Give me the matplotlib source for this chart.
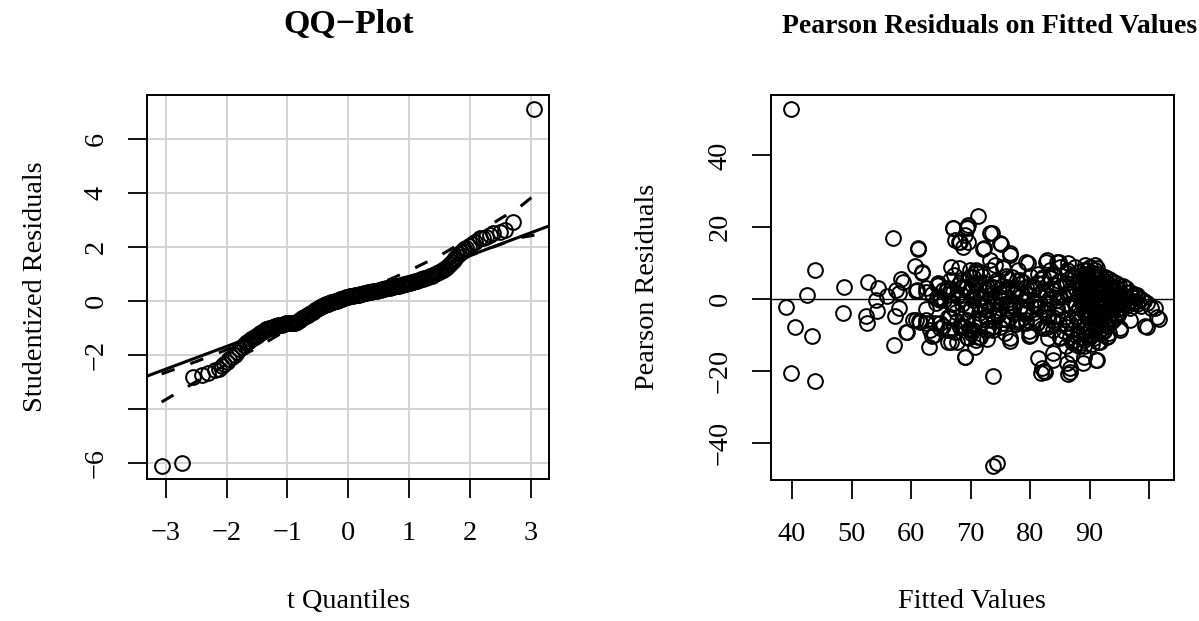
import matplotlib
matplotlib.use("Agg")
import matplotlib.pyplot as plt

plt.rcParams['font.family'] = ['Liberation Serif', 'DejaVu Serif']

# ---------------- QQ plot data ----------------
qq_quantiles = [
    -3.07, -2.73, -2.55, -2.41, -2.30, -2.19, -2.13, -2.08, -2.04, -2.00, -1.96, -1.91, -1.87, -1.83, -1.79, -1.75,
    -1.72, -1.69, -1.66, -1.63, -1.60, -1.57, -1.54, -1.51, -1.48, -1.45, -1.42, -1.39, -1.36,
    -1.33, -1.30, -1.27, -1.24, -1.21, -1.18, -1.15, -1.12, -1.09, -1.06, -1.03,
    -1.00, -0.97, -0.94, -0.91, -0.88, -0.85,
    -0.82, -0.79, -0.76, -0.73, -0.70, -0.67, -0.64, -0.61, -0.58, -0.55, -0.52, -0.49, -0.46, -0.43,
    -0.40, -0.37, -0.34, -0.31, -0.28, -0.25, -0.22, -0.19, -0.16, -0.13, -0.10, -0.07, -0.04,
    -0.01, 0.02, 0.05, 0.08, 0.11, 0.14, 0.17, 0.20, 0.23, 0.26, 0.29, 0.32, 0.35, 0.38, 0.41, 0.44, 0.47, 0.50,
    0.53, 0.56, 0.59, 0.62, 0.65, 0.68, 0.71, 0.74, 0.77, 0.80, 0.83, 0.86, 0.89, 0.92, 0.95,
    0.98, 1.01, 1.04, 1.07, 1.10, 1.13, 1.16, 1.19, 1.22, 1.25, 1.28, 1.31, 1.34,
    1.37, 1.40, 1.43, 1.46, 1.49, 1.52, 1.55, 1.58, 1.61,
    1.64, 1.67, 1.70, 1.73, 1.76,
    1.79, 1.82, 1.85, 1.88, 1.91, 1.94,
    1.98, 2.03, 2.08, 2.16, 2.21, 2.27, 2.33, 2.38, 2.49, 2.57, 2.70, 3.06,
]
qq_residuals = [
    -6.11, -6.01, -2.83, -2.74, -2.65, -2.57, -2.50, -2.42, -2.33, -2.25, -2.16, -2.07, -1.98, -1.88, -1.79, -1.69,
    -1.61, -1.56, -1.52, -1.47, -1.42, -1.38, -1.33, -1.28, -1.24, -1.19, -1.14, -1.10, -1.05,
    -1.02, -1.00, -0.98, -0.96, -0.94, -0.92, -0.90, -0.89, -0.87, -0.85, -0.83,
    -0.82, -0.82, -0.81, -0.80, -0.80, -0.79,
    -0.74, -0.69, -0.64, -0.60, -0.55, -0.51, -0.47, -0.43, -0.39, -0.35, -0.31, -0.27, -0.23, -0.19,
    -0.15, -0.12, -0.10, -0.07, -0.05, -0.03, 0.00, 0.02, 0.05, 0.07, 0.09, 0.12, 0.14,
    0.15, 0.17, 0.18, 0.20, 0.21, 0.23, 0.24, 0.26, 0.27, 0.29, 0.30, 0.32, 0.33, 0.35, 0.36, 0.38, 0.39, 0.41,
    0.42, 0.44, 0.45, 0.47, 0.48, 0.50, 0.51, 0.53, 0.54, 0.56, 0.57, 0.59, 0.60, 0.62, 0.63,
    0.65, 0.67, 0.69, 0.71, 0.73, 0.76, 0.78, 0.80, 0.82, 0.84, 0.87, 0.89, 0.91,
    0.94, 0.97, 1.01, 1.04, 1.08, 1.11, 1.14, 1.18, 1.21,
    1.29, 1.37, 1.45, 1.53, 1.61,
    1.68, 1.74, 1.80, 1.86, 1.92, 1.97,
    2.05, 2.12, 2.20, 2.32, 2.35, 2.38, 2.45, 2.51, 2.57, 2.63, 2.94, 7.11,
]
ref_line_x = [-3.31, 3.30]
ref_line_y = [-2.78, 2.78]
env_x = [-3.07, -2.5, -2.0, -1.5, -1.0, -0.5, 0.0, 0.5, 1.0, 1.5, 2.0, 2.5, 2.8, 3.06]
env_upper = [-2.70, -2.24, -1.80, -1.33, -0.85, -0.35, 0.15, 0.62, 1.12, 1.68, 2.33, 3.05, 3.45, 3.92]
env_lower = [-3.74, -2.98, -2.35, -1.72, -1.06, -0.55, -0.10, 0.30, 0.64, 1.05, 1.68, 2.10, 2.34, 2.44]

qq_xticks = [-3, -2, -1, 0, 1, 2, 3]
qq_xticklabels = ['\u22123', '\u22122', '\u22121', '0', '1', '2', '3']
qq_yticks = [-6, -4, -2, 0, 2, 4, 6]
qq_yticklabels = ['\u22126', '', '\u22122', '0', '2', '4', '6']

# ---------------- Residuals vs fitted data ----------------
fitted = [
    39.8, 39.0, 40.5, 39.8, 42.5, 43.9, 43.4, 43.9,
    48.7, 48.6, 52.8, 52.5, 52.6, 54.5, 54.1, 54.3, 55.9, 56.9, 57.5, 57.9, 58.3, 57.9, 57.3, 57.1, 59.2,
    60.6, 61.1, 61.8, 60.8, 62.5, 62.5, 60.8, 61.4, 63.5, 63.1, 64.0, 64.5, 65.0, 65.6, 66.3, 66.3,
    67.0, 66.7, 67.3, 68.4, 69.0, 69.0, 69.0, 67.8, 66.7,
    67.1, 69.4, 69.1, 68.0, 69.6, 73.3, 75.0, 76.6, 72.2, 73.3, 79.4, 79.7, 82.8, 84.8, 86.4, 89.2, 91.2,
    71.3, 69.6, 69.4, 68.2, 68.8, 67.4, 73.6, 72.1, 75.1, 76.7, 75.5,
    61.2, 61.8, 58.7, 61.0, 62.6, 64.6, 65.4, 64.3, 66.6, 67.1, 68.8, 69.9, 71.0, 71.6, 70.5, 72.2, 73.3,
    74.4, 75.0, 76.1, 76.6, 77.8, 78.3, 79.4, 80.6, 81.1, 82.2, 83.4, 83.9, 85.0, 86.2, 87.3, 88.4, 89.5,
    60.4, 61.5, 62.6, 59.3, 63.2, 63.8, 66.6, 66.3, 67.4, 68.2, 69.4, 71.0, 69.1, 69.9, 71.6, 72.7, 73.8,
    74.4, 76.6, 76.1, 77.2, 78.3, 80.0, 79.4, 80.9, 81.7, 81.4, 82.0, 82.5, 83.9, 86.2, 86.7, 87.3, 89.0,
    86.2, 86.7, 89.0, 91.2, 84.5, 82.8, 83.9, 99.6, 101.3, 100.4, 73.8, 73.7, 74.4,
    81.9, 82.3, 83.9, 86.4, 86.7, 87.0, 88.9, 91.1, 88.3, 79.9, 76.7, 72.7, 70.8, 82.7, 84.6,
    99.3, 101.6, 101.0, 99.6, 97.9,
    69.9, 71.0, 73.3, 75.5, 69.9, 71.6, 73.8, 75.0, 77.2, 78.3, 79.4, 80.6, 82.2, 83.4, 83.9, 85.0, 86.2,
    69.9, 71.6, 72.7, 73.8, 75.0, 76.6, 77.8, 78.9, 79.4, 81.1, 82.8, 83.9, 86.2, 81.1, 76.1, 72.7, 70.5,
    68.8, 71.3, 80.0, 82.8, 85.0, 87.0, 87.6, 89.0, 89.5, 91.8, 93.2, 95.1,
    64.3, 66.0, 67.9, 67.7, 70.5, 71.0, 71.6, 69.4, 72.7, 74.4, 76.1, 77.8, 78.9, 80.6, 82.2, 83.4,
    85.0, 86.2, 87.3, 89.5, 62.6, 64.9, 66.6, 68.2, 69.4, 70.5, 71.6, 72.7, 73.8, 75.5, 77.8, 79.4,
    81.1, 82.5, 83.9, 85.0, 86.7, 87.8, 88.4, 90.1, 91.8, 92.9, 95.1, 96.8,
    64.9, 67.1, 70.5, 71.6, 73.8, 75.5, 78.3, 80.6, 82.8, 84.5, 86.7, 87.8,
    72.5, 73.5, 74.5, 75.5, 76.5, 77.5, 78.5, 79.5, 80.5, 81.5, 82.5, 83.5, 84.5, 85.5, 86.5, 70.0,
    71.0, 68.5, 67.5, 66.0, 71.5, 74.0, 76.0, 78.0, 80.0, 82.0, 84.0, 86.0, 85.5, 88.0, 87.0, 89.0, 90.5,
    87.5, 87.5, 87.5, 87.5, 88.3, 88.3, 88.3, 88.3, 88.3, 89.0, 89.0, 89.0, 89.0, 89.0, 89.0,
    89.7, 89.7, 89.7, 89.7, 89.7, 89.7, 90.3, 90.3, 90.3, 90.3, 90.3, 90.3, 90.3,
    90.9, 90.9, 90.9, 90.9, 90.9, 90.9, 90.9, 91.5, 91.5, 91.5, 91.5, 91.5, 91.5, 91.5, 91.5,
    92.0, 92.0, 92.0, 92.0, 92.0, 92.0, 92.6, 92.6, 92.6, 92.6, 92.6, 92.6,
    93.2, 93.2, 93.2, 93.2, 93.2, 93.8, 93.8, 93.8, 93.8, 93.8, 94.4, 94.4, 94.4, 94.4,
    95.0, 95.0, 95.0, 95.0, 95.6, 95.6, 95.6, 96.2, 96.2, 96.2, 96.8, 96.8, 96.8,
    97.4, 97.4, 98.0, 98.0, 98.6, 98.6, 99.2,
    63.5, 64.2, 65.3, 66.1, 67.0, 67.8, 68.6, 69.3, 70.1, 70.8, 71.4, 72.3, 73.0, 73.9, 74.7, 75.3,
    76.2, 77.0, 77.6, 78.7, 79.2, 80.3, 81.0, 81.8, 82.6, 83.2, 84.1, 84.9, 85.7, 86.4, 87.1,
    64.8, 66.9, 68.0, 69.6, 70.3, 72.0, 73.1, 74.2, 75.8, 77.3, 78.0, 79.8, 81.3, 83.0, 84.3, 85.3,
    86.0, 87.6,
    88.0, 88.6, 89.3, 90.0, 90.6, 91.2, 91.8, 92.3, 92.9, 93.5, 94.1, 94.7, 95.3, 95.9, 96.5, 97.1,
    97.7, 88.7, 89.4, 90.1, 90.7, 91.3, 91.9, 92.4, 93.0, 93.6, 94.2, 94.8, 90.0, 91.0,
    88.9, 89.5, 90.2, 90.8, 91.4, 92.1, 92.7, 93.3, 93.9, 94.5, 89.2, 89.9, 90.5, 91.1, 91.7, 92.2,
    92.8, 93.4, 94.0, 94.6, 95.2, 88.4, 89.1, 89.8, 90.4, 91.0, 91.6, 92.5, 93.1, 93.7,
]
pearson = [
    52.8, -2.2, -7.7, -20.5, 1.2, 8.0, -10.2, -22.8,
    3.3, -3.8, 4.6, -4.8, -6.7, 3.2, -0.4, -3.3, 0.8, 16.9, 2.5, 1.8, 5.6, -2.4, -4.8, -12.9, -9.3,
    9.2, 13.9, 7.3, 2.1, 3.2, -2.8, -5.9, -6.2, -10.2, -13.4, -6.7, 4.4, 0.4, -0.3, -4.9, -11.9,
    19.7, 9.0, 6.7, 5.3, 3.0, -7.7, -16.1, -11.9, -11.9,
    19.7, 20.1, 17.8, 16.0, 16.0, 18.5, 15.5, 12.7, 14.1, 10.9, 10.4, 9.9, 10.9, 10.4, 9.9, 9.5, 8.5,
    23.1, 20.6, 19.7, 16.0, 14.6, 16.4, 18.5, 13.8, 15.2, 12.2, 9.0,
    14.1, 7.6, 4.8, 2.5, 2.0, 3.9, 2.5, 0.2, 5.3, 2.0, 3.4, 6.2, 8.1, 4.4, 0.6, 0.6, 3.4,
    5.3, 1.6, 3.4, -0.7, 5.3, 0.6, 3.4, -0.3, 4.4, 2.5, 5.8, 0.6, 3.4, 7.1, 1.6, 5.3, -0.3,
    -5.9, -6.3, -6.8, -9.1, -8.6, -10.0, -4.9, -8.6, -9.1, -7.7, -5.9, -11.4, -16.1, -8.6, -6.8, -4.9, -7.7,
    -3.1, -11.0, -5.9, -4.0, -5.9, -10.0, -3.1, -5.9, -2.1, -16.5, -19.3, -20.2, -15.1, -7.7, -10.5, -5.9, -8.6,
    -17.9, -20.2, -16.1, -17.0, -4.5, -4.9, -8.6, -7.7, -4.9, -2.6, -21.4, -46.5, -45.8,
    -20.7, -20.0, -16.9, -21.0, -19.1, -15.4, -17.7, -17.1, -13.2, -10.3, -11.7, -11.2, -13.3, 10.4, 10.4,
    -7.5, -5.6, -2.6, -1.2, 0.6,
    8.1, 7.1, 8.1, 8.5, 2.5, 0.6, 3.4, 0.6, 2.5, 5.3, -0.3, 3.4, 6.2, 8.1, 2.5, 0.6, 4.4,
    -3.1, -5.9, -8.6, -4.5, -7.7, -4.9, -6.3, -4.0, -6.8, -6.8, -3.1, -4.9, -5.9, -2.1, -1.2, -1.2, -8.6,
    -7.7, -10.5, -10.0, -7.7, -11.0, -8.6, -12.4, -11.4, -7.7, -11.9, -9.6, -8.6,
    3.9, 2.5, 3.9, 0.7, 6.2, 7.6, 7.6, 3.4, 3.4, 4.4, 5.8, 2.5, 4.8, 3.4, 4.4, 6.2,
    9.0, 8.1, 6.7, 8.1, -5.8, -6.8, -8.6, -7.9, -10.5, -6.8, -10.5, -5.8, -8.6, -6.8, -5.8, -5.8,
    -6.8, -8.2, -5.8, -10.5, -6.8, -12.3, -10.5, -10.5, -8.6, -10.5, -8.2, -5.8,
    -0.3, -1.2, -0.3, -2.1, -1.2, -0.3, -2.1, -1.2, 1.1, -0.3, 1.6, -1.7,
    -2.0, 1.0, -1.5, 2.0, -3.0, 1.5, -2.0, 1.0, -4.0, 1.5, -1.0, 3.0, -2.5, 1.0, -1.5, -2.5,
    2.0, -1.5, -3.5, 2.5, -4.0, -6.0, 6.5, 8.0, 6.5, -8.0, 7.0, 4.5, -5.5, -9.5, -12.0, -13.0, -12.5,
    6.5, 3.0, -1.5, -4.0, 7.5, 4.5, 1.0, -2.5, -6.0, 8.0, 5.5, 2.5, -0.5, -3.5, -7.0,
    6.5, 3.5, 1.0, -2.0, -5.0, -9.0, 7.5, 5.0, 2.0, -1.0, -3.5, -6.5, -10.0,
    8.0, 6.0, 3.5, 1.0, -1.5, -4.5, -8.0, 7.0, 4.5, 2.5, 0.0, -2.5, -5.5, -9.5, -12.0,
    6.5, 4.0, 1.5, -1.0, -3.5, -7.0, 6.0, 3.5, 1.0, -1.5, -4.0, -6.0,
    5.5, 3.0, 0.5, -2.0, -4.5, 5.0, 2.5, 0.0, -2.5, -4.0, 4.5, 2.0, -0.5, -3.0,
    4.0, 1.5, -1.0, -3.5, 3.5, 1.0, -1.5, 3.0, 0.5, -2.0, 2.0, -0.5, -2.5,
    1.5, -1.0, 1.0, -1.5, 0.0, -2.0, -0.5,
    1.5, -1.0, -7.5, 3.0, -2.5, -6.0, 1.0, -3.5, -9.5, 4.5, -1.5, 2.0, -8.0, 0.5, -4.5, 3.5,
    -2.5, 6.0, -7.0, 1.5, -4.0, 2.5, -1.5, 5.5, -3.5, 0.0, -6.5, 5.0, -9.0, 1.5, 6.0,
    -8.0, -1.5, 8.5, -11.0, 4.0, 6.5, -3.0, 9.5, -9.5, -2.0, 3.0, -9.0, 7.0, -11.0, 4.0, -3.0,
    -13.0, 9.0,
    5.0, -0.5, 7.0, 4.0, -2.5, 5.5, 0.5, 2.5, -3.0, 4.0, -1.5, 3.0, -2.5, 2.0, -1.0, 0.5,
    -0.5, 2.0, -4.5, -8.0, -11.0, -7.0, -9.5, -5.0, -7.5, -6.5, -5.5, -4.5, 9.0, 9.5,
    3.8, 1.8, 4.8, 2.8, 5.8, 2.2, 4.8, 1.8, 3.2, 0.8, -1.8, -0.8, -2.2, -3.2, -0.2, -4.2,
    -1.2, -5.2, -2.2, -1.8, 0.2, 2.8, -3.2, 5.8, 0.8, -7.2, -6.2, -8.8, -10.2, -2.8,
]
rv_xticks = [40, 50, 60, 70, 80, 90, 100]
rv_xticklabels = ['40', '50', '60', '70', '80', '90', '']
rv_yticks = [-40, -20, 0, 20, 40]
rv_yticklabels = ['\u221240', '\u221220', '0', '20', '40']

W, H = 1199, 621
fig = plt.figure(figsize=(W / 100, H / 100), dpi=100)

def px_axes(l, t, r, b):
    return fig.add_axes([l / W, 1 - b / H, (r - l) / W, (b - t) / H])

FS = 20.3
mk = dict(marker='o', markersize=10.6, markerfacecolor='none', markeredgecolor='black',
          markeredgewidth=1.45, linestyle='none')

def style(ax):
    for s in ax.spines.values():
        s.set_linewidth(1.4)
    ax.tick_params(axis='both', direction='out', length=13.5, width=1.3, labelsize=FS)
    ax.tick_params(axis='x', pad=17)
    ax.tick_params(axis='y', pad=14)

# ---- Left: QQ plot ----
ax1 = px_axes(147, 95, 549, 479)
ax1.set_xlim(-3.31, 3.30)
ax1.set_ylim(-6.59, 7.63)
for v in qq_xticks:
    ax1.axvline(v, color='#d3d3d3', lw=1.4, zorder=0)
for v in qq_yticks:
    ax1.axhline(v, color='#d3d3d3', lw=1.4, zorder=0)
ax1.plot(ref_line_x, ref_line_y, color='black', lw=2.2, zorder=2)
ax1.plot(env_x, env_upper, color='black', lw=2.2, linestyle=(0, (4.5, 5.5)), zorder=2)
ax1.plot(env_x, env_lower, color='black', lw=2.2, linestyle=(0, (4.5, 5.5)), zorder=2)
ax1.plot(qq_quantiles, qq_residuals, zorder=3, **mk)
ax1.set_xticks(qq_xticks)
ax1.set_xticklabels(qq_xticklabels)
ax1.set_yticks(qq_yticks)
ax1.set_yticklabels(qq_yticklabels, rotation=90, va='center')
style(ax1)

# ---- Right: Pearson residuals vs fitted ----
ax2 = px_axes(771, 95, 1174, 480)
ax2.set_xlim(36.47, 104.2)
ax2.set_ylim(-50.4, 56.8)
ax2.axhline(0, color='black', lw=1.0, zorder=1)
ax2.plot(fitted, pearson, zorder=3, **mk)
ax2.set_xticks(rv_xticks)
ax2.set_xticklabels(rv_xticklabels)
ax2.set_yticks(rv_yticks)
ax2.set_yticklabels(rv_yticklabels, rotation=90, va='center')
style(ax2)

# ---- Titles and axis labels ----
fig.text(349 / W, 1 - 33 / H, 'QQ\u2212Plot', ha='center', va='baseline',
         fontsize=24.5, fontweight='bold')
fig.text(990 / W, 1 - 33 / H, 'Pearson Residuals on Fitted Values', ha='center', va='baseline',
         fontsize=20, fontweight='bold')
fig.text(349 / W, 1 - 608 / H, 't Quantiles', ha='center', va='baseline', fontsize=FS)
fig.text(972 / W, 1 - 608 / H, 'Fitted Values', ha='center', va='baseline', fontsize=FS)
fig.text(36 / W, 1 - 287 / H, 'Studentized Residuals', ha='center', va='center',
         rotation=90, fontsize=FS)
fig.text(648 / W, 1 - 287 / H, 'Pearson Residuals', ha='center', va='center',
         rotation=90, fontsize=FS)

fig.savefig('out.png', dpi=100)
